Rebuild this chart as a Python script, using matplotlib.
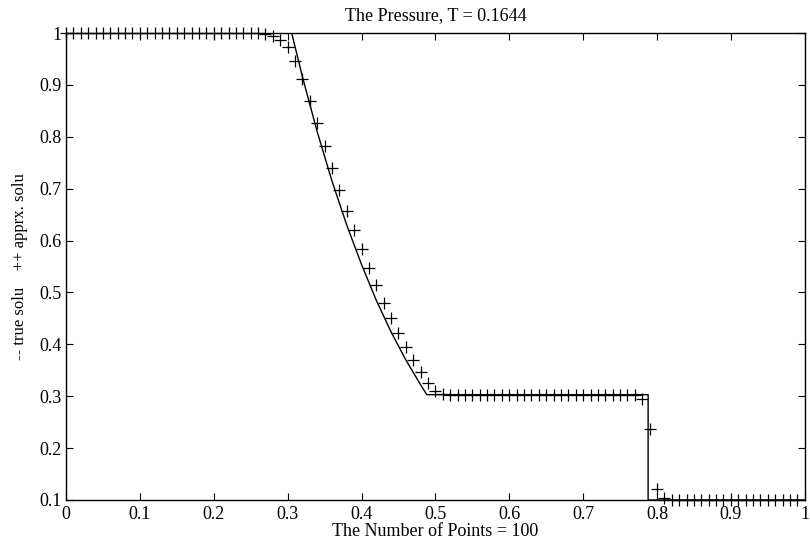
import numpy as np
import matplotlib
matplotlib.use("Agg")
import matplotlib.pyplot as plt
from matplotlib.ticker import FormatStrFormatter

# approximate solution, one value per grid point x = 0, 0.01, ..., 0.99
n_points = 100
approx_head = [1.0] * 27
approx_fan = [0.999, 0.994, 0.987, 0.973, 0.946, 0.911, 0.869, 0.827, 0.782,
              0.740, 0.698, 0.657, 0.620, 0.584, 0.548, 0.514, 0.480, 0.451,
              0.422, 0.395, 0.370, 0.347, 0.326, 0.310, 0.304]
approx_plateau = [0.303] * 26
approx_shock = [0.295, 0.237, 0.121, 0.104]
approx_tail = [0.1] * 18
approx_p = approx_head + approx_fan + approx_plateau + approx_shock + approx_tail
approx_x = [i / n_points for i in range(n_points)]

# true solution
true_x = [0.0, 0.3055, 0.32, 0.34, 0.36, 0.38, 0.40, 0.42, 0.44, 0.46, 0.48,
          0.4884, 0.788, 0.788, 1.0]
true_p = [1.0, 1.0, 0.916, 0.810, 0.715, 0.630, 0.554, 0.485, 0.424, 0.370,
          0.322, 0.303, 0.303, 0.1, 0.1]

plt.rcParams['font.family'] = ['Liberation Serif', 'DejaVu Serif']
plt.rcParams['font.size'] = 12

fig = plt.figure(figsize=(8.1, 5.42), dpi=100)
ax = fig.add_axes([0.0815, 0.0775, 0.912, 0.8615])

ax.plot(true_x, true_p, color='k', linewidth=1.0)
ax.plot(approx_x, approx_p, linestyle='none', marker='+', color='k',
        markersize=8, markeredgewidth=0.9, clip_on=False)

ax.set_xlim(0, 1)
ax.set_ylim(0.1, 1)
ax.set_xticks(np.arange(0, 1.01, 0.1))
ax.set_yticks(np.arange(0.1, 1.01, 0.1))
ax.xaxis.set_major_formatter(FormatStrFormatter('%g'))
ax.yaxis.set_major_formatter(FormatStrFormatter('%g'))
ax.tick_params(direction='in', length=5, width=0.8, top=True, right=True,
               labelsize=13)
ax.tick_params(axis='x', pad=4)
ax.tick_params(axis='y', pad=3)
for s in ax.spines.values():
    s.set_linewidth(1.0)

ax.set_title("The Pressure, T = 0.1644", fontsize=13, pad=9)
ax.set_xlabel("The Number of Points = 100", fontsize=13, labelpad=0)
ax.set_ylabel("-- true solu    ++ apprx. solu", fontsize=12)
ax.yaxis.set_label_coords(-0.052, 0.5)

fig.savefig("out.png", dpi=100)
